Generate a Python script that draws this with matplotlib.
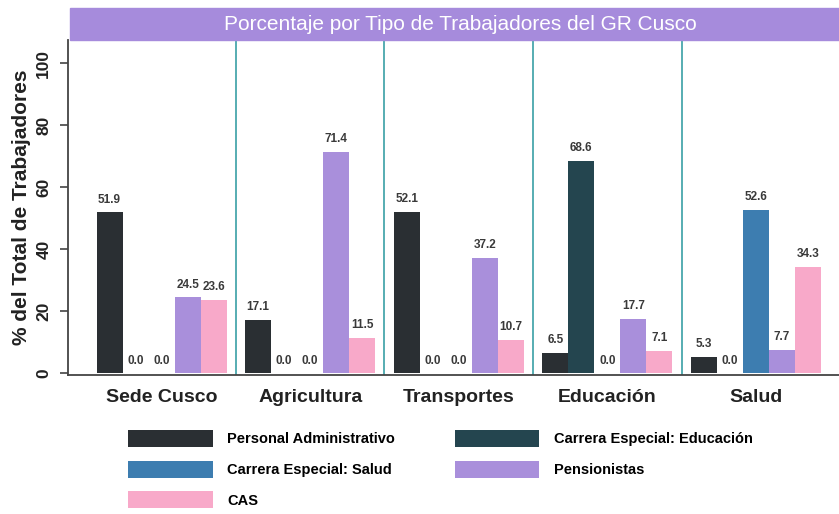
import matplotlib
matplotlib.use('Agg')
import matplotlib.pyplot as plt
from matplotlib.patches import Rectangle, Patch
import numpy as np

plt.rcParams['font.family'] = ['Liberation Sans', 'DejaVu Sans']

categories = ['Sede Cusco', 'Agricultura', 'Transportes', 'Educación', 'Salud']
series_names = ['Personal Administrativo', 'Carrera Especial: Educación',
                'Carrera Especial: Salud', 'Pensionistas', 'CAS']
personal_admin = [51.9, 17.1, 52.1, 6.5, 5.3]
ce_educacion = [0.0, 0.0, 0.0, 68.6, 0.0]
ce_salud = [0.0, 0.0, 0.0, 0.0, 52.6]
pensionistas = [24.5, 71.4, 37.2, 17.7, 7.7]
cas = [23.6, 11.5, 10.7, 7.1, 34.3]
yticks = [0, 20, 40, 60, 80, 100]
title = 'Porcentaje por Tipo de Trabajadores del GR Cusco'
ylabel = '% del Total de Trabajadores'

series_values = [personal_admin, ce_educacion, ce_salud, pensionistas, cas]
colors = ['#2a2f33', '#24454f', '#3d7db0', '#a98fdb', '#f8a9c9']

W, H = 839, 514
fig = plt.figure(figsize=(W / 100, H / 100), dpi=100)
ax = fig.add_axes([68 / W, 1 - 375 / H, 1 - 68 / W, (375 - 40) / H])

x = np.arange(len(categories))
bw = 0.175
for i, (vals, col) in enumerate(zip(series_values, colors)):
    pos = x + (i - 2) * bw
    ax.bar(pos, vals, width=bw, color=col, label=series_names[i], zorder=2)
    for px, v in zip(pos, vals):
        ax.annotate(f'{v:.1f}', (px, v), xytext=(0, 5), textcoords='offset points',
                    ha='center', va='bottom', fontsize=8.5, fontweight='bold',
                    color='#3a3a3a')

for s in [0.5, 1.5, 2.5, 3.5]:
    ax.axvline(s, color='#3a9fa5', lw=1.2, zorder=1)

ax.set_xlim(-0.63, 4.56)
ax.set_ylim(-0.5, 107.5)
ax.set_xticks(x)
ax.set_xticklabels(categories, fontsize=14, fontweight='bold', color='#222222')
ax.tick_params(axis='x', length=0, pad=10)
ax.set_yticks(yticks)
ax.set_yticklabels([str(t) for t in yticks], fontsize=12.5, fontweight='bold',
                   color='#222222')
for lab in ax.get_yticklabels():
    lab.set_rotation(90)
    lab.set_va('center')
ax.tick_params(axis='y', length=6, width=1.2, color='#444444', pad=6)
ax.set_ylabel(ylabel, fontsize=15, fontweight='bold', color='#222222', labelpad=4)
for sp in ['top', 'right']:
    ax.spines[sp].set_visible(False)
for sp in ['left', 'bottom']:
    ax.spines[sp].set_color('#444444')
    ax.spines[sp].set_linewidth(1.3)

# title bar
fig.patches.append(Rectangle((70 / W, 1 - 40 / H), 1 - 70 / W, 32 / H,
                             transform=fig.transFigure, color='#a68bdc', zorder=0))
fig.text(460 / W, 1 - 24 / H, title, color='white', fontsize=15,
         ha='center', va='center')

# legend laid out row by row (matplotlib fills columns first)
order = [0, 2, 4, 1, 3]
handles = [Patch(facecolor=colors[i], edgecolor='none') for i in order]
labels = [series_names[i] for i in order]
fig.legend(handles, labels, ncol=2, loc='upper left',
           bbox_to_anchor=(128 / W, 1 - 430 / H), frameon=False,
           prop={'size': 10.5, 'weight': 'bold'}, handlelength=5.8,
           handleheight=1.4, handletextpad=1.0, columnspacing=4.1,
           labelspacing=0.95, borderpad=0, borderaxespad=0)

fig.savefig('out.png', dpi=100)
